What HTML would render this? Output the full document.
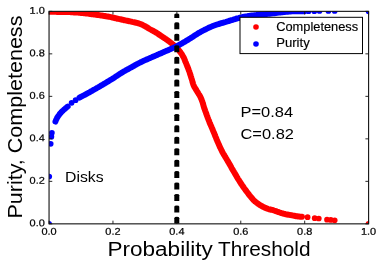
<!DOCTYPE html>
<html><head><meta charset="utf-8"><title>Purity, Completeness vs Probability Threshold</title>
<style>
html,body{margin:0;padding:0;background:#fff;}
body{width:383px;height:267px;overflow:hidden;font-family:"Liberation Sans",sans-serif;}
svg{display:block;}
text{font-family:"Liberation Sans",sans-serif;fill:#000;}
svg{will-change:transform;}
</style></head><body>
<svg width="383" height="267" viewBox="0 0 383 267">
<rect x="0" y="0" width="383" height="267" fill="#fff"/>
<defs><clipPath id="ax"><rect x="49.05" y="11.35" width="319.55" height="212.5"/></clipPath></defs>
<g clip-path="url(#ax)">
<polyline points="49.0,11.8 50.1,11.8 51.1,11.8 52.1,11.8 53.1,11.8 54.1,11.8 55.1,11.8 56.1,11.8 57.1,11.9 58.1,11.9 59.1,11.9 60.1,11.9 61.1,11.9 62.1,11.9 63.1,11.9 64.0,12.0 65.0,12.0 66.0,12.0 67.0,12.0 68.0,12.1 69.0,12.1 70.0,12.1 71.0,12.2 72.0,12.2 73.0,12.3 74.0,12.4 75.0,12.4 76.0,12.5 77.0,12.5 78.0,12.6 79.0,12.7 80.0,12.8 81.0,12.9 82.0,13.0 83.0,13.1 84.0,13.2 85.0,13.3 86.0,13.4 87.0,13.5 88.0,13.6 89.0,13.8 90.0,13.9 91.0,14.0 91.9,14.2 92.9,14.3 93.9,14.4 94.9,14.6 95.9,14.7 96.9,14.9 97.9,15.0 98.9,15.1 99.9,15.3 100.9,15.4 101.8,15.6 102.8,15.7 103.8,15.9 104.8,16.0 105.8,16.2 106.8,16.4 107.8,16.5 108.8,16.7 109.7,16.9 110.7,17.1 111.7,17.3 112.7,17.6 113.6,17.8 114.6,18.0 115.6,18.2 116.6,18.5 117.5,18.7 118.5,18.9 119.5,19.1 120.5,19.3 121.4,19.5 122.4,19.7 123.4,20.0 124.4,20.2 125.4,20.4 126.3,20.6 127.3,20.8 128.3,21.0 129.3,21.2 130.2,21.4 131.2,21.6 132.2,21.9 133.2,22.1 134.2,22.3 135.1,22.5 136.1,22.7 137.1,23.0 138.1,23.2 139.0,23.5 139.9,23.8 140.9,24.2 141.8,24.6 142.7,25.0 143.6,25.5 144.5,25.9 145.4,26.4 146.2,26.9 147.1,27.4 147.9,27.9 148.8,28.5 149.6,29.0 150.5,29.5 151.4,30.0 152.3,30.4 153.2,30.9 154.0,31.4 154.9,31.9 155.8,32.4 156.6,32.9 157.5,33.4 158.3,34.0 159.1,34.6 159.9,35.1 160.8,35.7 161.6,36.3 162.4,36.8 163.2,37.4 164.1,37.9 164.9,38.5 165.8,39.0 166.6,39.6 167.4,40.2 168.2,40.8 169.0,41.3 169.8,41.9 170.6,42.6 171.4,43.2 172.2,43.8 172.9,44.5 173.7,45.1 174.5,45.8 175.2,46.4 175.9,47.1 176.7,47.8 177.4,48.5 178.1,49.3 178.7,50.0 179.3,50.8 179.9,51.6 180.5,52.4 181.1,53.2 181.7,54.0 182.2,54.9 182.7,55.8 183.2,56.6 183.7,57.5 184.1,58.4 184.5,59.3 184.9,60.3 185.2,61.2 185.6,62.1 186.0,63.0 186.4,64.0 186.7,64.9 187.1,65.8 187.5,66.8 187.9,67.7 188.2,68.6 188.6,69.6 188.9,70.5 189.3,71.4 189.6,72.4 189.9,73.3 190.2,74.3 190.5,75.2 190.8,76.2 191.1,77.1 191.4,78.1 191.7,79.0 192.0,80.0 192.3,81.0 192.5,82.0 192.8,82.9 193.1,83.9 193.4,84.8 193.8,85.7 194.2,86.6 194.7,87.5 195.3,88.3 195.8,89.2 196.3,90.1 196.8,90.9 197.4,91.8 197.9,92.6 198.4,93.5 198.9,94.3 199.5,95.2 200.0,96.1 200.4,96.9 200.8,97.8 201.2,98.7 201.6,99.7 201.9,100.6 202.3,101.5 202.6,102.5 202.9,103.5 203.2,104.4 203.4,105.4 203.7,106.3 204.0,107.3 204.3,108.3 204.7,109.2 205.0,110.1 205.3,111.1 205.7,112.0 206.0,113.0 206.3,113.9 206.7,114.9 207.0,115.8 207.4,116.7 207.7,117.7 208.1,118.6 208.4,119.5 208.8,120.5 209.2,121.4 209.5,122.3 209.9,123.3 210.3,124.2 210.7,125.1 211.1,126.0 211.5,126.9 211.9,127.9 212.3,128.8 212.7,129.7 213.0,130.6 213.4,131.5 213.8,132.5 214.2,133.4 214.6,134.3 214.9,135.2 215.3,136.2 215.7,137.1 216.1,138.0 216.4,139.0 216.8,139.9 217.2,140.8 217.6,141.7 218.0,142.6 218.4,143.5 218.8,144.5 219.2,145.4 219.6,146.3 220.0,147.2 220.5,148.1 220.9,149.0 221.3,149.9 221.8,150.8 222.2,151.7 222.7,152.6 223.2,153.5 223.7,154.3 224.2,155.2 224.7,156.0 225.2,156.9 225.7,157.7 226.3,158.6 226.8,159.5 227.3,160.3 227.8,161.2 228.3,162.1 228.8,162.9 229.3,163.8 229.8,164.7 230.3,165.5 230.8,166.4 231.3,167.3 231.7,168.1 232.2,169.0 232.7,169.9 233.2,170.7 233.8,171.6 234.3,172.5 234.8,173.3 235.3,174.2 235.8,175.1 236.3,175.9 236.8,176.8 237.3,177.6 237.8,178.5 238.3,179.3 238.9,180.2 239.4,181.0 239.9,181.9 240.5,182.7 241.0,183.6 241.6,184.4 242.1,185.2 242.7,186.1 243.3,186.9 243.8,187.7 244.4,188.5 245.0,189.3 245.6,190.1 246.2,190.9 246.8,191.7 247.4,192.5 248.0,193.3 248.6,194.1 249.2,194.9 249.9,195.7 250.5,196.5 251.1,197.3 251.8,198.1 252.4,198.8 253.1,199.6 253.8,200.3 254.5,201.0 255.2,201.6 256.0,202.2 256.8,202.8 257.6,203.4 258.4,204.0 259.3,204.6 260.1,205.1 261.0,205.6 261.9,206.1 262.7,206.6 263.6,207.1 264.5,207.5 265.4,207.9 266.4,208.3 267.3,208.7 268.2,209.0 269.2,209.3 270.2,209.5 271.1,209.7 272.1,209.9 273.1,210.2 274.0,210.5 275.0,210.8 275.9,211.1 276.9,211.5 277.8,211.8 278.7,212.2 279.7,212.5 280.7,212.8 281.6,213.1 282.6,213.4 283.5,213.7 284.5,213.9 285.5,214.2 286.4,214.4 287.4,214.5 288.4,214.7 289.4,214.9 290.4,215.1 291.4,215.2 292.3,215.4 293.3,215.6 294.3,215.8 295.3,216.0 296.3,216.2 297.3,216.3 298.3,216.5 299.2,216.6 300.2,216.7 301.2,216.7 302.0,216.8" fill="none" stroke="#ff0000" stroke-width="6.0" stroke-linecap="round" stroke-linejoin="round"/>
<circle cx="307.6" cy="217.2" r="2.85" fill="#ff0000"/><circle cx="314.7" cy="218.2" r="2.85" fill="#ff0000"/><circle cx="318.8" cy="218.5" r="2.85" fill="#ff0000"/><circle cx="327.0" cy="219.7" r="2.85" fill="#ff0000"/><circle cx="330.8" cy="219.9" r="2.85" fill="#ff0000"/><circle cx="334.7" cy="220.3" r="2.85" fill="#ff0000"/><circle cx="368.6" cy="223.8" r="2.85" fill="#ff0000"/>
<polyline points="55.4,121.6 55.7,120.8 56.0,120.1 56.3,119.4 56.7,118.7 57.0,118.0 57.4,117.3 57.9,116.6 58.3,115.9 58.8,115.3 59.3,114.6 59.7,114.0 60.2,113.4 60.8,112.8 61.3,112.2 61.9,111.6 62.5,111.1 63.1,110.5 63.6,110.0 64.2,109.4 64.8,108.9 65.4,108.4 66.0,107.8 66.7,107.3 67.3,106.8 67.7,106.5" fill="none" stroke="#0000ff" stroke-width="5.9" stroke-linecap="round" stroke-linejoin="round"/>
<polyline points="79.5,97.6 80.8,96.9 82.2,96.2 83.5,95.5 84.8,94.8 86.1,94.1 87.4,93.4 88.8,92.7 90.1,91.9 91.4,91.2 92.7,90.4 94.0,89.7 95.3,89.0 96.6,88.2 97.9,87.5 99.2,86.7 100.5,85.9 101.8,85.2 103.1,84.4 104.4,83.7 105.6,82.9 106.9,82.1 108.2,81.4 109.5,80.6 110.8,79.8 112.1,79.0 113.3,78.2 114.6,77.4 115.8,76.5 117.1,75.7 118.3,74.9 119.6,74.1 120.9,73.3 122.1,72.5 123.4,71.7 124.7,71.0 126.0,70.2 127.3,69.5 128.7,68.8 130.0,68.0 131.3,67.3 132.6,66.6 133.9,65.9 135.2,65.1 136.5,64.4 137.9,63.7 139.2,63.0 140.5,62.3 141.9,61.7 143.2,61.0 144.6,60.4 146.0,59.8 147.3,59.2 148.7,58.6 150.1,58.0 151.5,57.4 152.8,56.8 154.2,56.2 155.6,55.6 157.0,55.0 158.3,54.4 159.7,53.8 161.1,53.2 162.4,52.6 163.8,52.0 165.2,51.4 166.6,50.8 168.0,50.2 169.3,49.6 170.7,49.0 172.1,48.4 173.5,47.8 174.8,47.2 176.2,46.5 177.5,45.8 178.8,45.1 180.1,44.4 181.5,43.7 182.7,42.9 184.0,42.2 185.3,41.4 186.6,40.6 187.9,39.9 189.2,39.1 190.5,38.3 191.7,37.5 193.0,36.7 194.2,35.8 195.5,35.0 196.8,34.2 198.0,33.4 199.3,32.7 200.6,31.9 202.0,31.2 203.3,30.5 204.6,29.8 206.0,29.2 207.3,28.5 208.6,27.8 210.0,27.2 211.4,26.6 212.8,26.0 214.2,25.5 215.6,25.0 217.0,24.5 218.4,24.1 219.9,23.6 221.3,23.2 222.7,22.8 224.2,22.4 225.6,22.0 227.1,21.5 228.5,21.1 229.9,20.6 231.4,20.2 232.8,19.8 234.2,19.3 235.7,18.9 237.1,18.4 238.6,18.1 240.0,17.7 241.5,17.3 242.9,17.0 244.4,16.7 245.9,16.4 247.4,16.2 248.8,15.9 250.3,15.7 251.8,15.5 253.3,15.3 254.8,15.1 256.3,15.0 257.8,14.8 259.3,14.7 260.7,14.5 262.2,14.4 263.7,14.3 265.2,14.1 266.7,14.0 268.2,13.9 269.7,13.7 271.2,13.6 272.7,13.4 274.2,13.3 275.7,13.1 277.2,12.9 278.7,12.7 280.1,12.5 281.6,12.3 283.1,12.2 284.6,12.0 286.1,11.9 287.6,11.8 289.1,11.6 290.6,11.5 292.1,11.4 293.6,11.3 295.1,11.3 296.6,11.3 298.1,11.3 299.6,11.3 301.1,11.3 302.6,11.3 304.1,11.3 304.5,11.3" fill="none" stroke="#0000ff" stroke-width="5.9" stroke-linecap="round" stroke-linejoin="round"/>
<circle cx="49.0" cy="223.8" r="2.85" fill="#0000ff"/><circle cx="49.2" cy="176.5" r="2.85" fill="#0000ff"/><circle cx="50.7" cy="143.8" r="2.85" fill="#0000ff"/><circle cx="51.4" cy="136.7" r="2.85" fill="#0000ff"/><circle cx="51.9" cy="132.8" r="2.85" fill="#0000ff"/><circle cx="71.6" cy="102.8" r="2.85" fill="#0000ff"/><circle cx="75.6" cy="100.2" r="2.85" fill="#0000ff"/><circle cx="308.6" cy="11.2" r="2.85" fill="#0000ff"/><circle cx="314.3" cy="11.2" r="2.85" fill="#0000ff"/><circle cx="319.5" cy="11.0" r="2.85" fill="#0000ff"/><circle cx="328.4" cy="11.0" r="2.85" fill="#0000ff"/><circle cx="334.7" cy="11.0" r="2.85" fill="#0000ff"/><circle cx="368.6" cy="11.3" r="2.85" fill="#0000ff"/>
<path d="M174.3,223.85 V218.15 Q174.3,216.85 176.8,216.85 Q179.3,216.85 179.3,218.15 V223.85 Z" fill="#000"/><path d="M174.3,212.41 V206.71 Q174.3,205.41 176.8,205.41 Q179.3,205.41 179.3,206.71 V212.41 Z" fill="#000"/><path d="M174.3,200.97 V195.27 Q174.3,193.97 176.8,193.97 Q179.3,193.97 179.3,195.27 V200.97 Z" fill="#000"/><path d="M174.3,189.53 V183.83 Q174.3,182.53 176.8,182.53 Q179.3,182.53 179.3,183.83 V189.53 Z" fill="#000"/><path d="M174.3,178.09 V172.39 Q174.3,171.09 176.8,171.09 Q179.3,171.09 179.3,172.39 V178.09 Z" fill="#000"/><path d="M174.3,166.65 V160.95 Q174.3,159.65 176.8,159.65 Q179.3,159.65 179.3,160.95 V166.65 Z" fill="#000"/><path d="M174.3,155.21 V149.51 Q174.3,148.21 176.8,148.21 Q179.3,148.21 179.3,149.51 V155.21 Z" fill="#000"/><path d="M174.3,143.77 V138.07 Q174.3,136.77 176.8,136.77 Q179.3,136.77 179.3,138.07 V143.77 Z" fill="#000"/><path d="M174.3,132.33 V126.63 Q174.3,125.33 176.8,125.33 Q179.3,125.33 179.3,126.63 V132.33 Z" fill="#000"/><path d="M174.3,120.89 V115.19 Q174.3,113.89 176.8,113.89 Q179.3,113.89 179.3,115.19 V120.89 Z" fill="#000"/><path d="M174.3,109.45 V103.75 Q174.3,102.45 176.8,102.45 Q179.3,102.45 179.3,103.75 V109.45 Z" fill="#000"/><path d="M174.3,98.01 V92.31 Q174.3,91.01 176.8,91.01 Q179.3,91.01 179.3,92.31 V98.01 Z" fill="#000"/><path d="M174.3,86.57 V80.87 Q174.3,79.57 176.8,79.57 Q179.3,79.57 179.3,80.87 V86.57 Z" fill="#000"/><path d="M174.3,75.13 V69.43 Q174.3,68.13 176.8,68.13 Q179.3,68.13 179.3,69.43 V75.13 Z" fill="#000"/><path d="M174.3,63.69 V57.99 Q174.3,56.69 176.8,56.69 Q179.3,56.69 179.3,57.99 V63.69 Z" fill="#000"/><path d="M174.3,52.25 V46.55 Q174.3,45.25 176.8,45.25 Q179.3,45.25 179.3,46.55 V52.25 Z" fill="#000"/><path d="M174.3,40.81 V35.11 Q174.3,33.81 176.8,33.81 Q179.3,33.81 179.3,35.11 V40.81 Z" fill="#000"/><path d="M174.3,29.37 V23.67 Q174.3,22.37 176.8,22.37 Q179.3,22.37 179.3,23.67 V29.37 Z" fill="#000"/><path d="M174.3,17.93 V14.70 Q174.3,13.40 176.8,13.40 Q179.3,13.40 179.3,14.70 V17.93 Z" fill="#000"/>
</g>
<!-- legend -->
<rect x="240.0" y="17.3" width="122.5" height="36.3" fill="#fff" stroke="#000" stroke-width="1"/>
<circle cx="256.0" cy="27.0" r="2.8" fill="#ff0000"/>
<circle cx="256.0" cy="44.0" r="2.8" fill="#0000ff"/>
<text x="276.2" y="30.9" font-size="12.3" textLength="82" lengthAdjust="spacingAndGlyphs" stroke="#000" stroke-width="0.15">Completeness</text>
<text x="276.2" y="47.2" font-size="12.3" textLength="33.5" lengthAdjust="spacingAndGlyphs" stroke="#000" stroke-width="0.15">Purity</text>
<!-- axes -->
<path d="M49.05,223.85 v-3.2 M49.05,11.35 v3.2 M49.05,223.85 h3.2 M368.6,223.85 h-3.2" stroke="#111" stroke-width="0.9" fill="none"/><path d="M112.96,223.85 v-3.2 M112.96,11.35 v3.2 M49.05,181.35 h3.2 M368.6,181.35 h-3.2" stroke="#111" stroke-width="0.9" fill="none"/><path d="M176.87,223.85 v-3.2 M176.87,11.35 v3.2 M49.05,138.85 h3.2 M368.6,138.85 h-3.2" stroke="#111" stroke-width="0.9" fill="none"/><path d="M240.78,223.85 v-3.2 M240.78,11.35 v3.2 M49.05,96.35 h3.2 M368.6,96.35 h-3.2" stroke="#111" stroke-width="0.9" fill="none"/><path d="M304.69,223.85 v-3.2 M304.69,11.35 v3.2 M49.05,53.85 h3.2 M368.6,53.85 h-3.2" stroke="#111" stroke-width="0.9" fill="none"/><path d="M368.60,223.85 v-3.2 M368.60,11.35 v3.2 M49.05,11.35 h3.2 M368.6,11.35 h-3.2" stroke="#111" stroke-width="0.9" fill="none"/>
<rect x="49.05" y="11.35" width="319.55" height="212.5" fill="none" stroke="#111" stroke-width="1.1"/>
<text x="29.6" y="226.20" font-size="9.8" textLength="15.2" lengthAdjust="spacingAndGlyphs" stroke="#000" stroke-width="0.22" transform="rotate(0.05 29.6 226.20)">0.0</text><text x="29.6" y="183.70" font-size="9.8" textLength="15.2" lengthAdjust="spacingAndGlyphs" stroke="#000" stroke-width="0.22" transform="rotate(0.05 29.6 183.70)">0.2</text><text x="29.6" y="141.20" font-size="9.8" textLength="15.2" lengthAdjust="spacingAndGlyphs" stroke="#000" stroke-width="0.22" transform="rotate(0.05 29.6 141.20)">0.4</text><text x="29.6" y="98.70" font-size="9.8" textLength="15.2" lengthAdjust="spacingAndGlyphs" stroke="#000" stroke-width="0.22" transform="rotate(0.05 29.6 98.70)">0.6</text><text x="29.6" y="56.20" font-size="9.8" textLength="15.2" lengthAdjust="spacingAndGlyphs" stroke="#000" stroke-width="0.22" transform="rotate(0.05 29.6 56.20)">0.8</text><text x="29.6" y="13.70" font-size="9.8" textLength="15.2" lengthAdjust="spacingAndGlyphs" stroke="#000" stroke-width="0.22" transform="rotate(0.05 29.6 13.70)">1.0</text>
<text x="41.45" y="234.75" font-size="9.8" textLength="15.2" lengthAdjust="spacingAndGlyphs" stroke="#000" stroke-width="0.22" transform="rotate(0.05 41.45 234.75)">0.0</text><text x="105.36" y="234.75" font-size="9.8" textLength="15.2" lengthAdjust="spacingAndGlyphs" stroke="#000" stroke-width="0.22" transform="rotate(0.05 105.36 234.75)">0.2</text><text x="169.27" y="234.75" font-size="9.8" textLength="15.2" lengthAdjust="spacingAndGlyphs" stroke="#000" stroke-width="0.22" transform="rotate(0.05 169.27 234.75)">0.4</text><text x="233.18" y="234.75" font-size="9.8" textLength="15.2" lengthAdjust="spacingAndGlyphs" stroke="#000" stroke-width="0.22" transform="rotate(0.05 233.18 234.75)">0.6</text><text x="297.09" y="234.75" font-size="9.8" textLength="15.2" lengthAdjust="spacingAndGlyphs" stroke="#000" stroke-width="0.22" transform="rotate(0.05 297.09 234.75)">0.8</text><text x="361.00" y="234.75" font-size="9.8" textLength="15.2" lengthAdjust="spacingAndGlyphs" stroke="#000" stroke-width="0.22" transform="rotate(0.05 361.00 234.75)">1.0</text>
<!-- annotations -->
<text x="65.0" y="181.8" font-size="14.6" textLength="38.6" lengthAdjust="spacingAndGlyphs">Disks</text>
<text x="240.5" y="117.4" font-size="14.6" textLength="52.6" lengthAdjust="spacingAndGlyphs">P=0.84</text>
<text x="240.5" y="139.1" font-size="14.6" textLength="53.4" lengthAdjust="spacingAndGlyphs">C=0.82</text>
<!-- axis labels -->
<text x="107.5" y="255.9" font-size="19.6" textLength="105.2" lengthAdjust="spacingAndGlyphs">Probability</text>
<text x="218.0" y="255.9" font-size="19.6" textLength="92.5" lengthAdjust="spacingAndGlyphs">Threshold</text>
<text transform="translate(21.7,218.6) rotate(-90)" x="0" y="0" font-size="19.6" textLength="203" lengthAdjust="spacingAndGlyphs">Purity, Completeness</text>
</svg>
</body></html>
